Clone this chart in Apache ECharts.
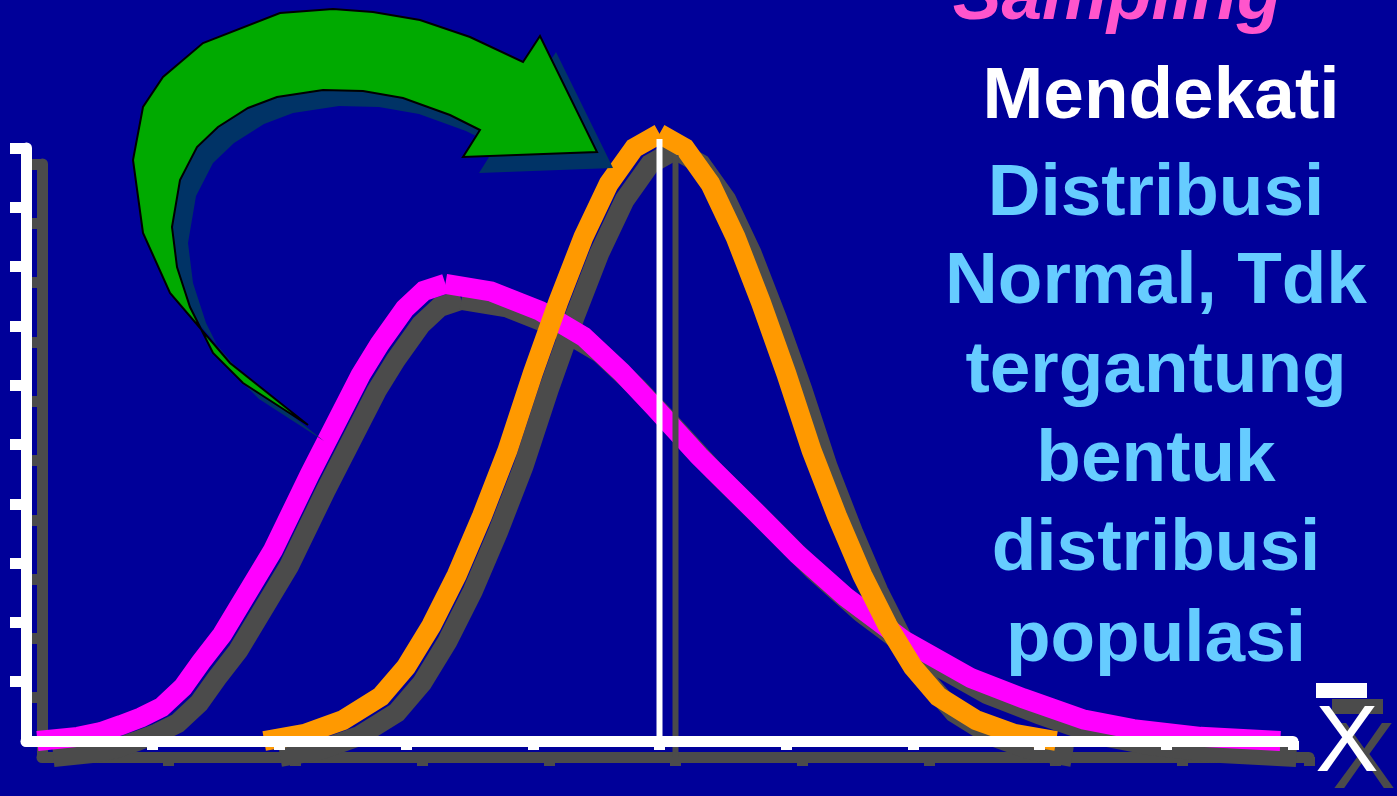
<!DOCTYPE html>
<html>
<head>
<meta charset="utf-8">
<script src="https://cdn.jsdelivr.net/npm/echarts@6.0.0/dist/echarts.min.js"></script>
<style>
  html, body { margin: 0; padding: 0; background: #000099; overflow: hidden; }
  #chart { width: 1397px; height: 796px; }
</style>
</head>
<body>
<div id="chart"></div>
<script>
// Population distribution (skewed) and sampling distribution of the mean (normal)
const skewedX = [0.09, 0.41, 0.59, 0.75, 0.91, 1.07, 1.24, 1.38, 1.55, 1.95, 2.24, 2.64, 2.79, 2.99, 3.14, 3.31,
                 3.67, 4.06, 4.40, 4.70, 4.96, 5.31, 5.76, 6.09, 6.47, 6.92, 7.46, 7.87, 8.35, 8.74, 9.27, 9.90];
const skewedY = [0.00, 0.07, 0.15, 0.27, 0.40, 0.57, 0.91, 1.33, 1.80, 3.22, 4.50, 6.17, 6.69, 7.29, 7.59, 7.71,
                 7.58, 7.25, 6.82, 6.22, 5.63, 4.81, 3.86, 3.15, 2.43, 1.71, 1.06, 0.72, 0.36, 0.20, 0.07, 0.00];

const normalX = [1.88, 2.2, 2.5, 2.8, 3.0, 3.2, 3.4, 3.6, 3.8, 4.0, 4.2, 4.4, 4.6, 4.8, 5.0,
                 5.2, 5.4, 5.6, 5.8, 6.0, 6.2, 6.4, 6.6, 6.8, 7.0, 7.2, 7.5, 7.8, 8.13];
const normalY = [0.00, 0.12, 0.35, 0.75, 1.25, 1.95, 2.8, 3.8, 4.9, 6.2, 7.4, 8.5, 9.4, 10.0, 10.24,
                 10.0, 9.4, 8.5, 7.4, 6.2, 4.9, 3.8, 2.8, 1.95, 1.25, 0.75, 0.35, 0.12, 0.00];

// Mean marker of the sampling distribution
const meanX = 5;
const meanLineTop = 10.15;

// Axis scale and tick positions (no tick labels are shown)
const axisMin = 0;
const axisMax = 10;
const tickValues = [1, 2, 3, 4, 5, 6, 7, 8, 9, 10];

// Caption text
const headline = 'Sampling';
const statement = 'Mendekati';
const bodyLines = ['Distribusi', 'Normal, Tdk', 'tergantung', 'bentuk', 'distribusi', 'populasi'];
const axisSymbol = 'X';

// ---- styling ----
const BG = '#000099';
const SHADOW = '#4B4B4B';
const WHITE = '#FFFFFF';
const MAGENTA = '#FF00FF';
const ORANGE = '#FF9900';
const SHADOW_DX = 16, SHADOW_DY = 16;

const plot = { left: 26, top: 148, width: 1267, height: 593 };

function pairs(xs, ys) { return xs.map((x, i) => [x, ys[i]]); }

// Each curve is drawn as two strokes that meet at the peak.
function halves(xs, ys) {
  let p = 0;
  ys.forEach((y, i) => { if (y > ys[p]) p = i; });
  const pts = pairs(xs, ys);
  return [pts.slice(0, p + 1), pts.slice(p)];
}

function makeAxes(gridIndex, color, z) {
  const lineStyle = { color, width: 11, cap: 'round' };
  const common = {
    type: 'value', gridIndex, min: axisMin, max: axisMax, interval: 1, z,
    axisLabel: { show: false }, splitLine: { show: false }
  };
  return {
    x: Object.assign({}, common, {
      axisLine: { show: true, onZero: false, lineStyle },
      axisTick: { show: true, inside: false, length: 9, customValues: tickValues, lineStyle: { color, width: 11 } }
    }),
    y: Object.assign({}, common, {
      axisLine: { show: true, onZero: false, lineStyle },
      axisTick: { show: true, inside: false, length: 16, customValues: tickValues, lineStyle: { color, width: 11 } }
    })
  };
}

const shadowAxes = makeAxes(0, SHADOW, 0);
const mainAxes = makeAxes(1, WHITE, 8);

function curveSeries(data, axisIndex, color, width, z) {
  return {
    type: 'line', xAxisIndex: axisIndex, yAxisIndex: axisIndex, data,
    showSymbol: false, symbol: 'none', smooth: false, clip: false, silent: true, z,
    lineStyle: { color, width, cap: 'butt', join: 'miter' }
  };
}

const [skewRise, skewFall] = halves(skewedX, skewedY);
const [normRise, normFall] = halves(normalX, normalY);
const meanLine = [[meanX, 0], [meanX, meanLineTop]];

const series = [
  // drop shadows
  curveSeries(skewRise, 0, SHADOW, 20, 1),
  curveSeries(skewFall, 0, SHADOW, 20, 1),
  curveSeries(normRise, 0, SHADOW, 20, 1),
  curveSeries(normFall, 0, SHADOW, 20, 1),
  // population (skewed) and sampling distribution (normal)
  curveSeries(skewRise, 1, MAGENTA, 20, 3),
  curveSeries(skewFall, 1, MAGENTA, 20, 3),
  curveSeries(normRise, 1, ORANGE, 20, 4),
  curveSeries(normFall, 1, ORANGE, 20, 4),
  // mean marker with its shadow
  curveSeries(meanLine, 0, SHADOW, 6, 5),
  curveSeries(meanLine, 1, WHITE, 6, 6)
];

// Curved arrow outline (screen pixels)
const arrowOutline = [
  [308, 425], [230, 363], [170, 293], [143, 233], [133, 160], [143, 107], [163, 77], [203, 43],
  [280, 13], [333, 9], [373, 12], [420, 20], [470, 37], [523, 62], [540, 36], [597, 152],
  [463, 157], [480, 130], [450, 115], [403, 98], [363, 91], [323, 90], [277, 97], [248, 108],
  [218, 127], [197, 147], [180, 180], [172, 227], [177, 267], [190, 307], [213, 353], [243, 383]
];

const FONT_BOLD = 'bold 73px "Liberation Sans", Arial, sans-serif';
const MID = 0.3465; // alphabetic baseline to canvas middle, in em

function textAt(text, cx, baseline, fill, font, size, z) {
  return {
    type: 'text', x: cx, y: baseline - MID * size, z,
    style: { text, fill, font, textAlign: 'center', textVerticalAlign: 'middle' }
  };
}

const bodyBaselines = [220, 308.5, 397.5, 486, 575, 666];

const graphics = [
  { type: 'polygon', z: 40, shape: { points: arrowOutline.map(p => [p[0] + SHADOW_DX, p[1] + SHADOW_DY]) },
    style: { fill: '#003366' } },
  { type: 'polygon', z: 41, shape: { points: arrowOutline },
    style: { fill: '#00AA00', stroke: '#000000', lineWidth: 2, lineJoin: 'miter' } },
  textAt(headline, 1117, 24, '#FF55CC', 'italic ' + FONT_BOLD, 73, 50),
  textAt(statement, 1161, 123, WHITE, FONT_BOLD, 73, 50)
];
bodyLines.forEach((line, i) => {
  graphics.push(textAt(line, 1156, bodyBaselines[i], '#66CCFF', FONT_BOLD, 73, 50));
});
// X-bar symbol at the end of the horizontal axis, with shadow
graphics.push(
  { type: 'rect', z: 44, shape: { x: 1332, y: 699, width: 51, height: 15 }, style: { fill: SHADOW } },
  textAt(axisSymbol, 1364, 795, SHADOW, '95px "Liberation Sans", Arial, sans-serif', 95, 44),
  { type: 'rect', z: 46, shape: { x: 1316, y: 683, width: 51, height: 15 }, style: { fill: WHITE } },
  textAt(axisSymbol, 1347, 778, WHITE, '95px "Liberation Sans", Arial, sans-serif', 95, 46)
);

const chart = echarts.init(document.getElementById('chart'), null, { renderer: 'canvas', width: 1397, height: 796 });
chart.setOption({
  backgroundColor: BG,
  animation: false,
  grid: [
    { left: plot.left + SHADOW_DX, top: plot.top + SHADOW_DY, width: plot.width, height: plot.height, containLabel: false },
    { left: plot.left, top: plot.top, width: plot.width, height: plot.height, containLabel: false }
  ],
  xAxis: [shadowAxes.x, mainAxes.x],
  yAxis: [shadowAxes.y, mainAxes.y],
  series,
  graphic: graphics
});
</script>
</body>
</html>
